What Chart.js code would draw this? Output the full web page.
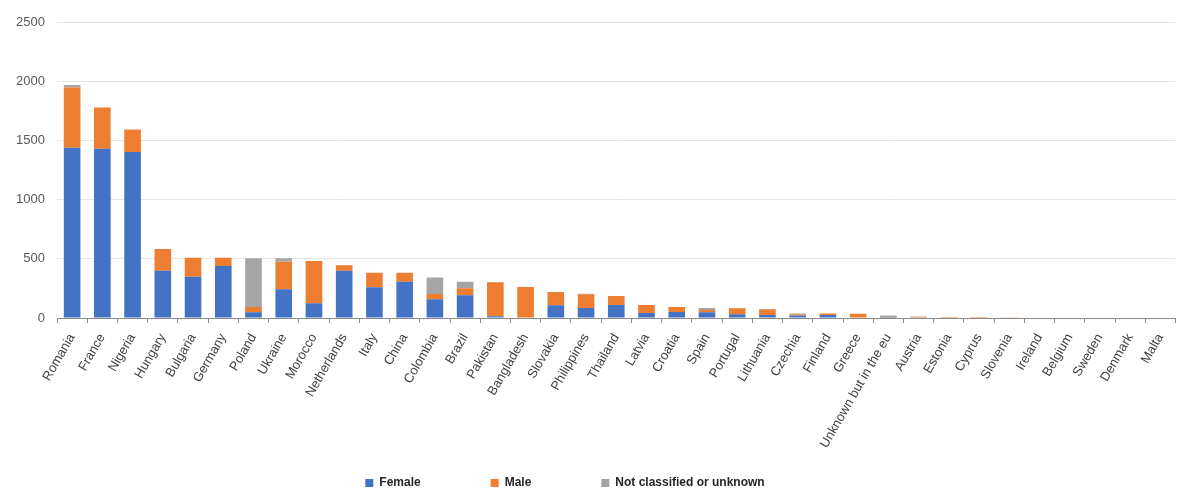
<!DOCTYPE html>
<html>
<head>
<meta charset="utf-8">
<script src="https://cdn.jsdelivr.net/npm/chart.js@4"></script>
<style>
  html, body { margin: 0; padding: 0; background: #fff; overflow: hidden; }
  #wrap { width: 1182px; height: 490px; }
</style>
</head>
<body>
<div id="wrap"><canvas id="countryChart"></canvas></div>
<script>
// Country of citizenship, by sex

let countries = ["Romania", "France", "Nigeria", "Hungary", "Bulgaria", "Germany", "Poland", "Ukraine",
    "Morocco", "Netherlands", "Italy", "China", "Colombia", "Brazil", "Pakistan", "Bangladesh",
    "Slovakia", "Philippines", "Thailand", "Latvia", "Croatia", "Spain", "Portugal", "Lithuania",
    "Czechia", "Finland", "Greece", "Unknown but in the eu", "Austria", "Estonia", "Cyprus",
    "Slovenia", "Ireland", "Belgium", "Sweden", "Denmark", "Malta"];
let femaleArr = [1437, 1429, 1401, 399, 349, 439, 48, 242, 124, 399, 259, 306, 158, 192, 15, 5,
    107, 84, 110, 42, 51, 48, 31, 25, 22, 25, 5, 2, 5, 0, 0, 0, 0, 0, 0, 0, 0];
let maleArr = [510, 349, 191, 183, 160, 70, 45, 233, 357, 46, 123, 76, 45, 59, 286, 257,
    112, 116, 76, 68, 42, 20, 51, 48, 10, 12, 30, 2, 3, 8, 8, 7, 0, 0, 0, 0, 0];
let unknownArr = [20, 0, 0, 0, 0, 0, 411, 29, 0, 0, 0, 0, 140, 55, 0, 0,
    0, 5, 0, 0, 0, 16, 0, 0, 5, 0, 0, 18, 4, 0, 0, 0, 0, 0, 0, 0, 0];
let yTicks = [0, 500, 1000, 1500, 2000, 2500];

const fontName = "'Liberation Sans', Arial, sans-serif";

// keep the long rotated labels from being cut at the axis box
const noLabelClip = {
    id: 'noLabelClip',
    beforeDraw(chart) {
        chart.scales.x._computeLabelArea = function () { return undefined; };
    }
};

const ctx = document.getElementById('countryChart').getContext('2d');
const countryChart = new Chart(ctx, {
    type: 'bar',
    data: {
        labels: countries,
        datasets: [{
            label: 'Female',
            data: femaleArr,
            backgroundColor: '#4472c4',
            barPercentage: 0.55,
            categoryPercentage: 1
        }, {
            label: 'Male',
            data: maleArr,
            backgroundColor: '#ed7d31',
            barPercentage: 0.55,
            categoryPercentage: 1
        }, {
            label: 'Not classified or unknown',
            data: unknownArr,
            backgroundColor: '#a5a5a5',
            barPercentage: 0.55,
            categoryPercentage: 1
        }]
    },
    options: {
        responsive: true,
        maintainAspectRatio: false,
        animation: false,
        layout: {
            padding: { left: -48, right: 4, top: 22, bottom: -9 }
        },
        scales: {
            x: {
                stacked: true,
                grid: {
                    display: true,
                    drawOnChartArea: false,
                    drawTicks: true,
                    tickLength: 5,
                    color: '#8a8a8a'
                },
                border: { color: '#8a8a8a' },
                ticks: {
                    autoSkip: false,
                    maxRotation: 60,
                    minRotation: 60,
                    padding: 8,
                    color: '#404040',
                    font: { family: fontName, size: 13 }
                },
                afterFit: function (scale) { scale.height = 89; }
            },
            y: {
                stacked: true,
                min: 0,
                max: 2500,
                afterBuildTicks: function (scale) {
                    scale.ticks = yTicks.map(v => ({ value: v }));
                },
                grid: {
                    color: '#e6e6e6',
                    drawTicks: false
                },
                border: { display: false },
                ticks: {
                    padding: 12,
                    color: '#595959',
                    font: { family: fontName, size: 13 },
                    callback: function (value) { return String(value); }
                },
                afterFit: function (scale) { scale.width = 105; }
            }
        },
        plugins: {
            legend: {
                position: 'bottom',
                labels: {
                    boxWidth: 8,
                    boxHeight: 8,
                    padding: 70,
                    color: '#262626',
                    font: { family: fontName, size: 12, weight: 'bold' }
                }
            },
            tooltip: { enabled: false }
        }
    },
    plugins: [noLabelClip]
});
</script>
</body>
</html>
